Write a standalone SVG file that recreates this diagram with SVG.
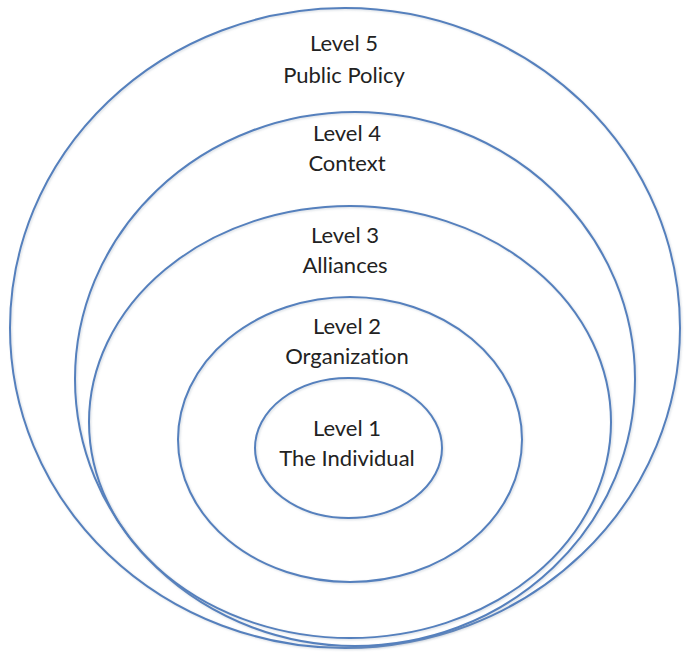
<svg xmlns="http://www.w3.org/2000/svg" width="684" height="653" viewBox="0 0 684 653">
  <style>
    .ring { fill: none; stroke: #5580bd; stroke-width: 2; }
    .label { font-family: Lato, "Open Sans", "Liberation Sans", sans-serif; font-size: 22px; fill: #222222; text-anchor: middle; font-variant-ligatures: none; }
  </style>
  <defs>
    <filter id="soft" x="-5%" y="-5%" width="110%" height="110%">
      <feDropShadow dx="1" dy="1" stdDeviation="1" flood-color="#8899aa" flood-opacity="0.35"/>
    </filter>
  </defs>
  <rect width="684" height="653" fill="#ffffff"/>

  <!-- Level 5: outermost ring -->
  <g id="level5">
    <ellipse class="ring" cx="345" cy="328" rx="335" ry="320" filter="url(#soft)"/>
    <text class="label" x="344" y="51">Level 5</text>
    <text class="label" x="344" y="83">Public Policy</text>
  </g>

  <!-- Level 4 -->
  <g id="level4">
    <ellipse class="ring" cx="355" cy="379" rx="280" ry="267" filter="url(#soft)"/>
    <text class="label" x="347" y="141">Level 4</text>
    <text class="label" x="347" y="171">Context</text>
  </g>

  <!-- Level 3 -->
  <g id="level3">
    <ellipse class="ring" cx="350" cy="422" rx="261" ry="216" filter="url(#soft)"/>
    <text class="label" x="345" y="243">Level 3</text>
    <text class="label" x="345" y="273">Alliances</text>
  </g>

  <!-- Level 2 -->
  <g id="level2">
    <ellipse class="ring" cx="350" cy="439.5" rx="172" ry="142.5" filter="url(#soft)"/>
    <text class="label" x="347" y="334">Level 2</text>
    <text class="label" x="347" y="364">Organization</text>
  </g>

  <!-- Level 1: innermost ring -->
  <g id="level1">
    <ellipse class="ring" cx="348.5" cy="448" rx="93.5" ry="70" filter="url(#soft)"/>
    <text class="label" x="347" y="436">Level 1</text>
    <text class="label" x="347" y="466">The Individual</text>
  </g>

  <g id="connectors"/>
</svg>
